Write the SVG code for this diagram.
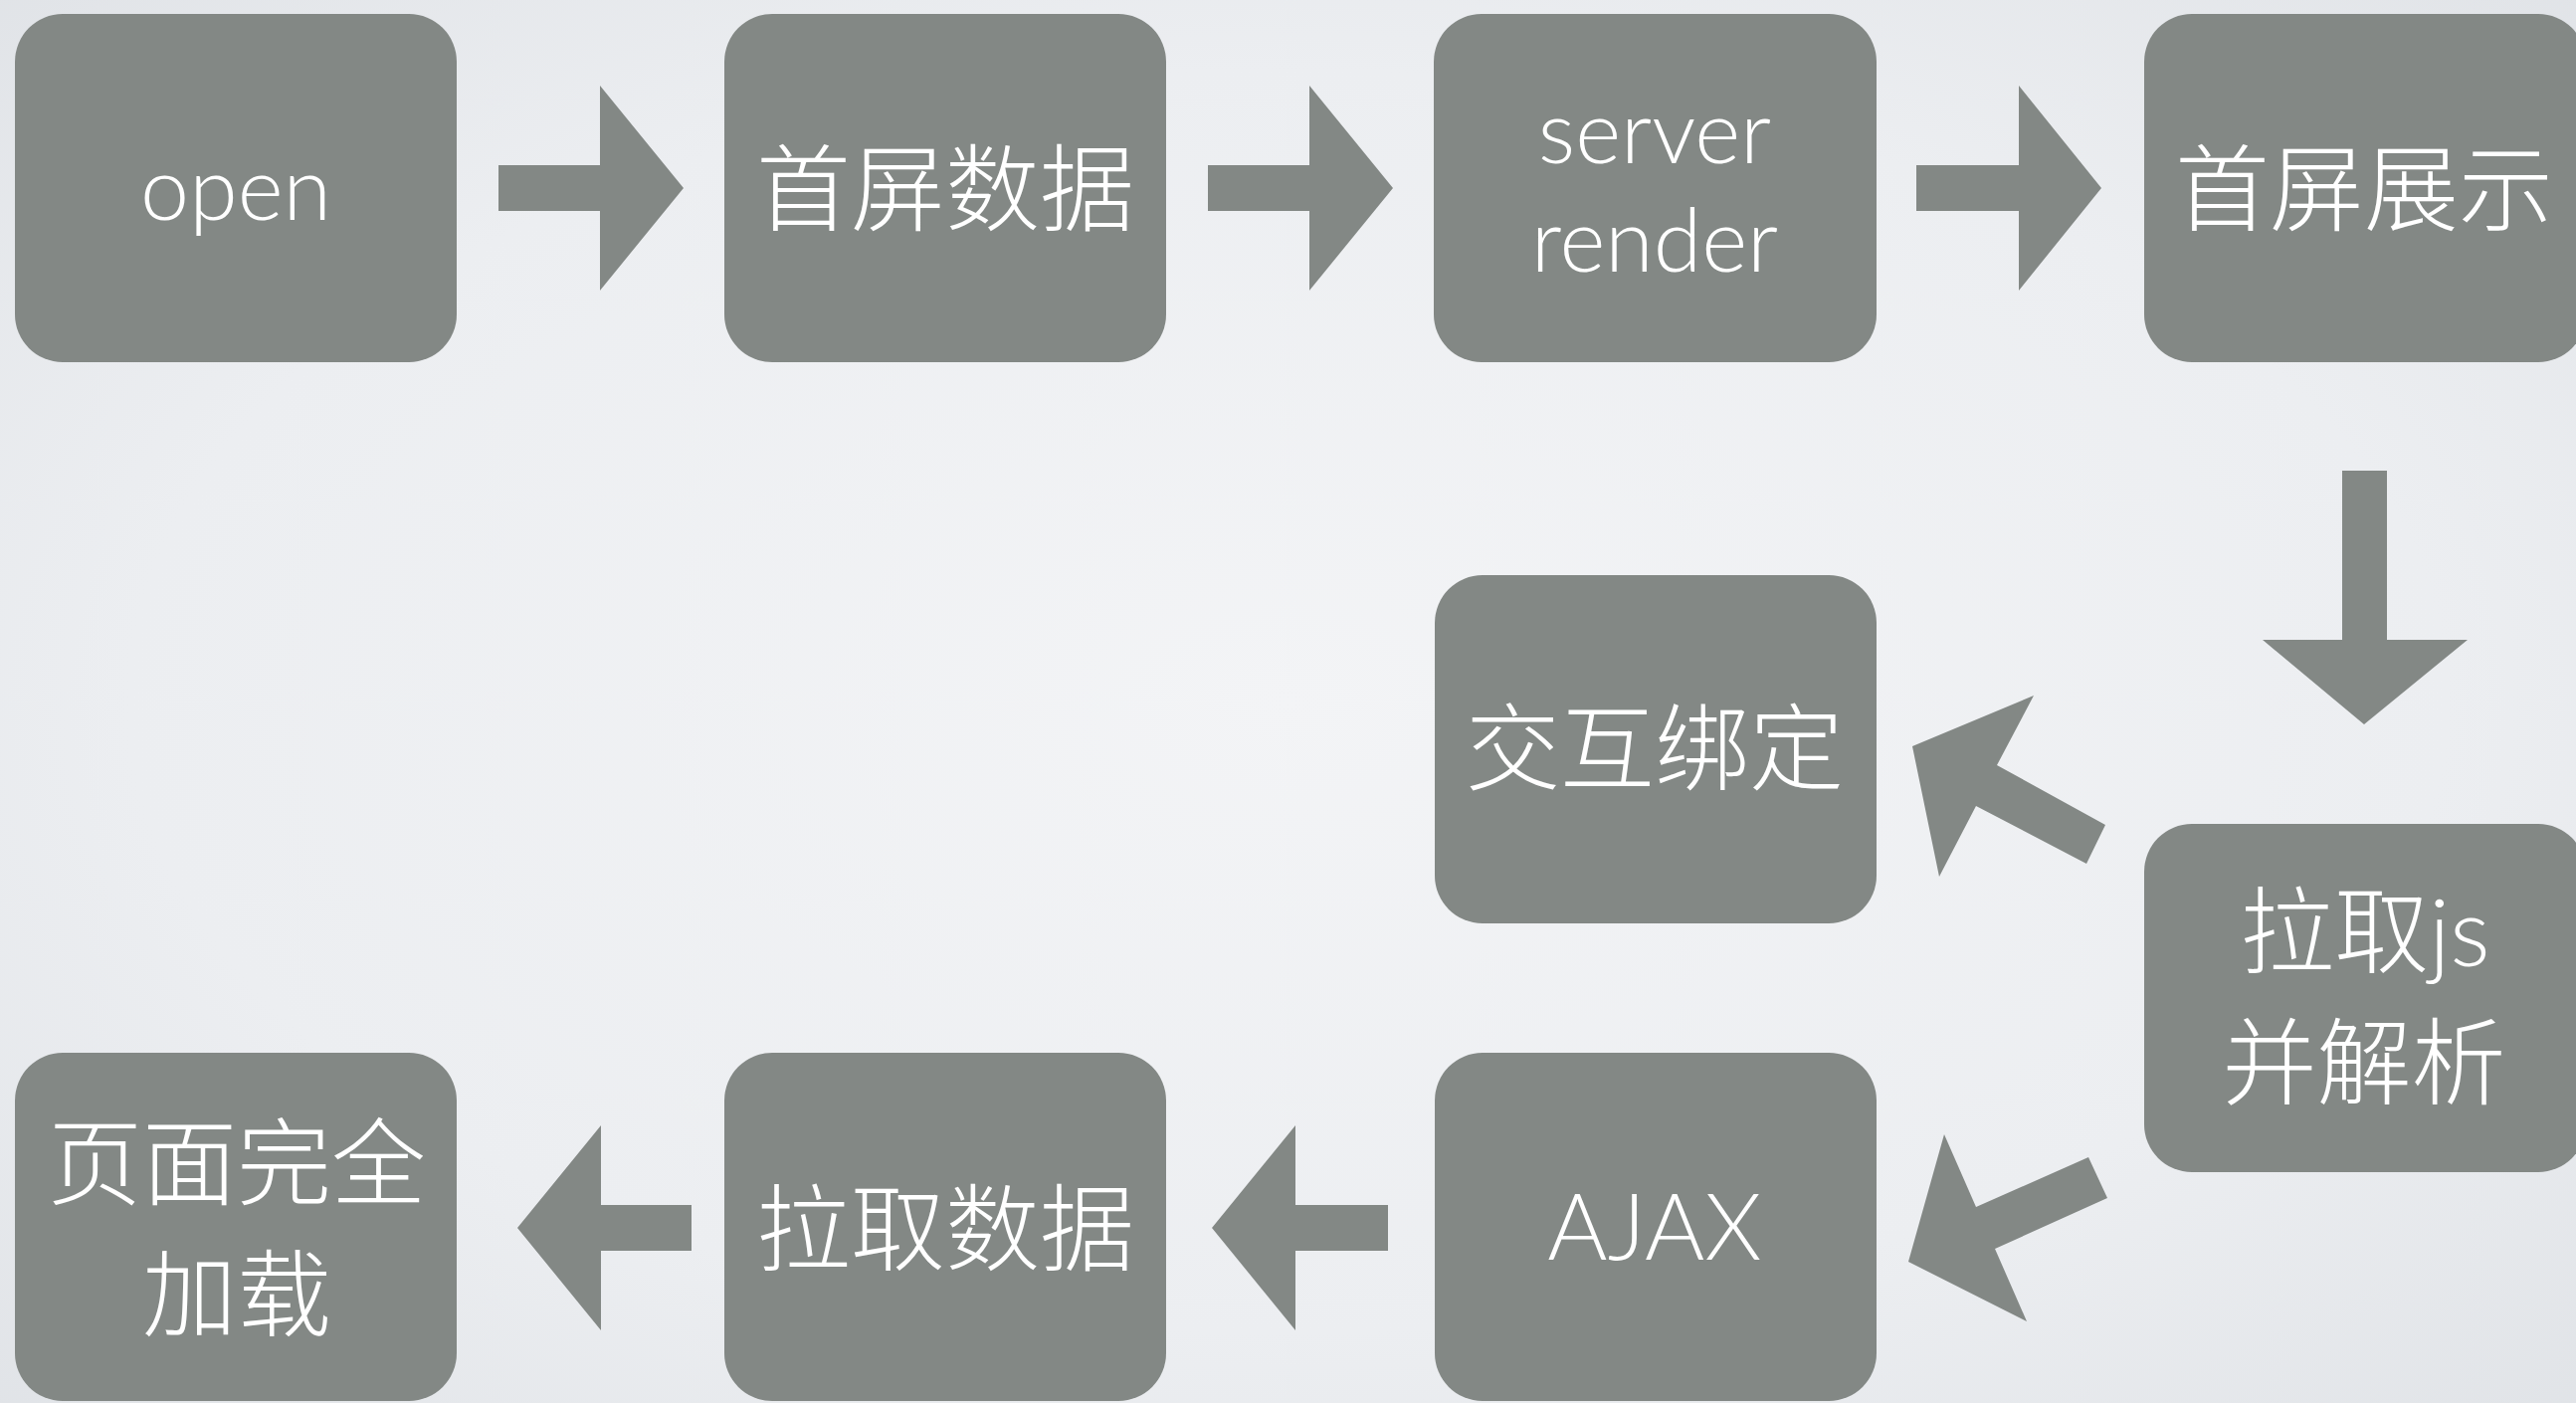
<svg xmlns="http://www.w3.org/2000/svg" width="2589" height="1410" viewBox="0 0 2589 1410">
  <defs>
    <radialGradient id="bg" cx="50%" cy="50%" r="75%">
      <stop offset="0" stop-color="#f3f4f6"/>
      <stop offset="0.6" stop-color="#eceef1"/>
      <stop offset="1" stop-color="#dfe2e6"/>
    </radialGradient>
    <style>
      .box { fill: #838885; }
      .arrow { fill: #838885; }
      .label { fill: #ffffff; font-family: Lato, "Noto Sans CJK SC", sans-serif; font-weight: 300; text-anchor: middle; }
      .cjk { font-size: 95px; }
      .lat { font-size: 88px; }
    </style>
  </defs>

  <rect width="2589" height="1410" fill="url(#bg)"/>

  <!-- steps -->
  <g id="node-open">
    <rect class="box" x="15" y="14" width="444" height="350" rx="48"/>
    <text class="label lat" x="237" y="221">open</text>
  </g>
  <g id="node-first-data">
    <rect class="box" x="728" y="14" width="444" height="350" rx="48"/>
    <text class="label cjk" x="950" y="225">首屏数据</text>
  </g>
  <g id="node-server-render">
    <rect class="box" x="1441" y="14" width="445" height="350" rx="48"/>
    <text class="label lat" x="1663" y="164">server</text>
    <text class="label lat" x="1663" y="273">render</text>
  </g>
  <g id="node-first-show">
    <rect class="box" x="2155" y="14" width="444" height="350" rx="48"/>
    <text class="label cjk" x="2376" y="225">首屏展示</text>
  </g>
  <g id="node-bind">
    <rect class="box" x="1442" y="578" width="444" height="350" rx="48"/>
    <text class="label cjk" x="1663" y="787">交互绑定</text>
  </g>
  <g id="node-js">
    <rect class="box" x="2155" y="828" width="444" height="350" rx="48"/>
    <text class="label cjk" x="2377" y="971">拉取js</text>
    <text class="label cjk" x="2376" y="1103">并解析</text>
  </g>
  <g id="node-ajax">
    <rect class="box" x="1442" y="1058" width="444" height="350" rx="48"/>
    <text class="label" x="1663" y="1266" font-size="92">AJAX</text>
  </g>
  <g id="node-fetch-data">
    <rect class="box" x="728" y="1058" width="444" height="350" rx="48"/>
    <text class="label cjk" x="950" y="1270">拉取数据</text>
  </g>
  <g id="node-loaded">
    <rect class="box" x="15" y="1058" width="444" height="350" rx="48"/>
    <text class="label cjk" x="238" y="1204">页面完全</text>
    <text class="label cjk" x="238" y="1336">加载</text>
  </g>

  <!-- block arrows between steps -->
  <g id="connectors">
    <polygon class="arrow" points="501,166 603,166 603,86 687,189 603,292 603,212 501,212"/>
    <polygon class="arrow" points="1214,166 1316,166 1316,86 1400,189 1316,292 1316,212 1214,212"/>
    <polygon class="arrow" points="1926,166 2029,166 2029,86 2112,189 2029,292 2029,212 1926,212"/>
    <polygon class="arrow" points="2354,473 2399,473 2399,643 2480,643 2376,728 2274,643 2354,643"/>
    <polygon class="arrow" points="2116,829 2007,769 2044,699 1922,750 1949,881 1986,810 2097,868"/>
    <polygon class="arrow" points="2099,1163 1986,1213 1954,1140 1918,1268 2037,1328 2005,1255 2118,1204"/>
    <polygon class="arrow" points="1395,1211 1302,1211 1302,1131 1218,1234 1302,1337 1302,1257 1395,1257"/>
    <polygon class="arrow" points="695,1211 604,1211 604,1131 520,1234 604,1337 604,1257 695,1257"/>
  </g>
</svg>
